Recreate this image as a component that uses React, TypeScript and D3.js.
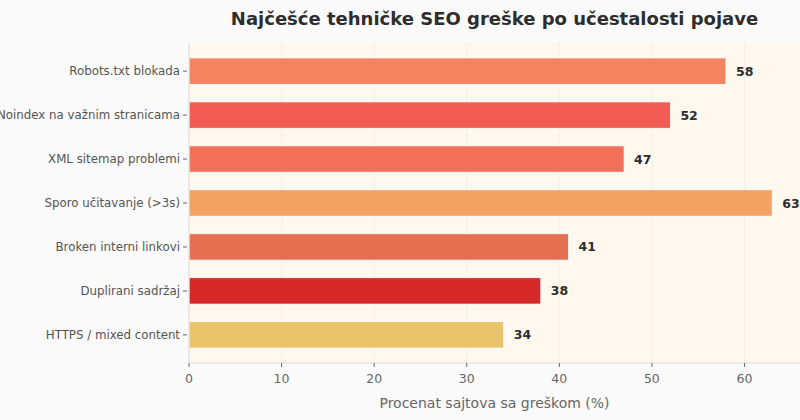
import React from "react";
import * as d3 from "d3";

const categories = [
  "Robots.txt blokada",
  "Noindex na važnim stranicama",
  "XML sitemap problemi",
  "Sporo učitavanje (>3s)",
  "Broken interni linkovi",
  "Duplirani sadržaj",
  "HTTPS / mixed content",
];
const values = [58, 52, 47, 63, 41, 38, 34];
const colors = ["#F4845F", "#F25C54", "#F27059", "#F4A261", "#E76F51", "#D62828", "#E9C46A"];
const xTicks = [0, 10, 20, 30, 40, 50, 60];

const W = 800;
const H = 420;
const margin = { top: 43, right: 0, bottom: 57, left: 189 };
const font = "'DejaVu Sans', sans-serif";

const App: React.FC = () => {
  const x = d3.scaleLinear().domain([0, 66]).range([margin.left, W - margin.right]);
  const y = d3
    .scaleBand()
    .domain(categories)
    .range([margin.top, H - margin.bottom])
    .paddingInner(0.4)
    .paddingOuter(0.34);
  const plotBottom = H - margin.bottom;

  return (
    <svg
      width={W}
      height={H}
      style={{ display: "block", position: "fixed", left: 0, top: 0, fontFamily: font }}
    >
      <rect width={W} height={H} fill="#FAFAFA" />
      <rect
        x={margin.left}
        y={margin.top}
        width={W - margin.right - margin.left}
        height={plotBottom - margin.top}
        fill="#FFF8EF"
      />
      {/* grid */}
      {xTicks.map((t) => (
        <line key={"g" + t} x1={x(t)} x2={x(t)} y1={margin.top} y2={plotBottom} stroke="#F1ECE4" strokeWidth={0.8} />
      ))}
      {/* bars */}
      {categories.map((c, i) => (
        <g key={c}>
          <rect
            x={x(0)}
            y={y(c)}
            width={x(values[i]) - x(0)}
            height={y.bandwidth()}
            fill={colors[i]}
            stroke="#FFFFFF"
            strokeWidth={0.8}
          />
          <text
            x={x(values[i]) + 10}
            y={(y(c) as number) + y.bandwidth() / 2}
            dy="0.36em"
            fontSize={12.5}
            fontWeight="bold"
            fill="#2D2D2D"
          >
            {values[i]}
          </text>
        </g>
      ))}
      {/* spines */}
      <line x1={margin.left} x2={margin.left} y1={margin.top} y2={plotBottom} stroke="#DDDDDD" strokeWidth={1} />
      <line x1={margin.left} x2={W} y1={plotBottom} y2={plotBottom} stroke="#DDDDDD" strokeWidth={1} />
      {/* y axis */}
      {categories.map((c) => {
        const cy = (y(c) as number) + y.bandwidth() / 2;
        return (
          <g key={"y" + c}>
            <line x1={margin.left - 6} x2={margin.left - 2} y1={cy} y2={cy} stroke="#666" strokeWidth={1} />
            <text x={margin.left - 9} y={cy} dy="0.36em" textAnchor="end" fontSize={11.8} fill="#555">
              {c}
            </text>
          </g>
        );
      })}
      {/* x axis */}
      {xTicks.map((t) => (
        <g key={"x" + t}>
          <line x1={x(t)} x2={x(t)} y1={plotBottom} y2={plotBottom + 4} stroke="#666" strokeWidth={1} />
          <text x={x(t)} y={plotBottom + 20} textAnchor="middle" fontSize={12.5} fill="#666">
            {t}
          </text>
        </g>
      ))}
      <text x={(margin.left + W) / 2} y={408} textAnchor="middle" fontSize={14} fill="#666">
        Procenat sajtova sa greškom (%)
      </text>
      <text x={(margin.left + W) / 2} y={25} textAnchor="middle" fontSize={18} fontWeight="bold" fill="#2D2D2D">
        Najčešće tehničke SEO greške po učestalosti pojave
      </text>
    </svg>
  );
};

export default App;
